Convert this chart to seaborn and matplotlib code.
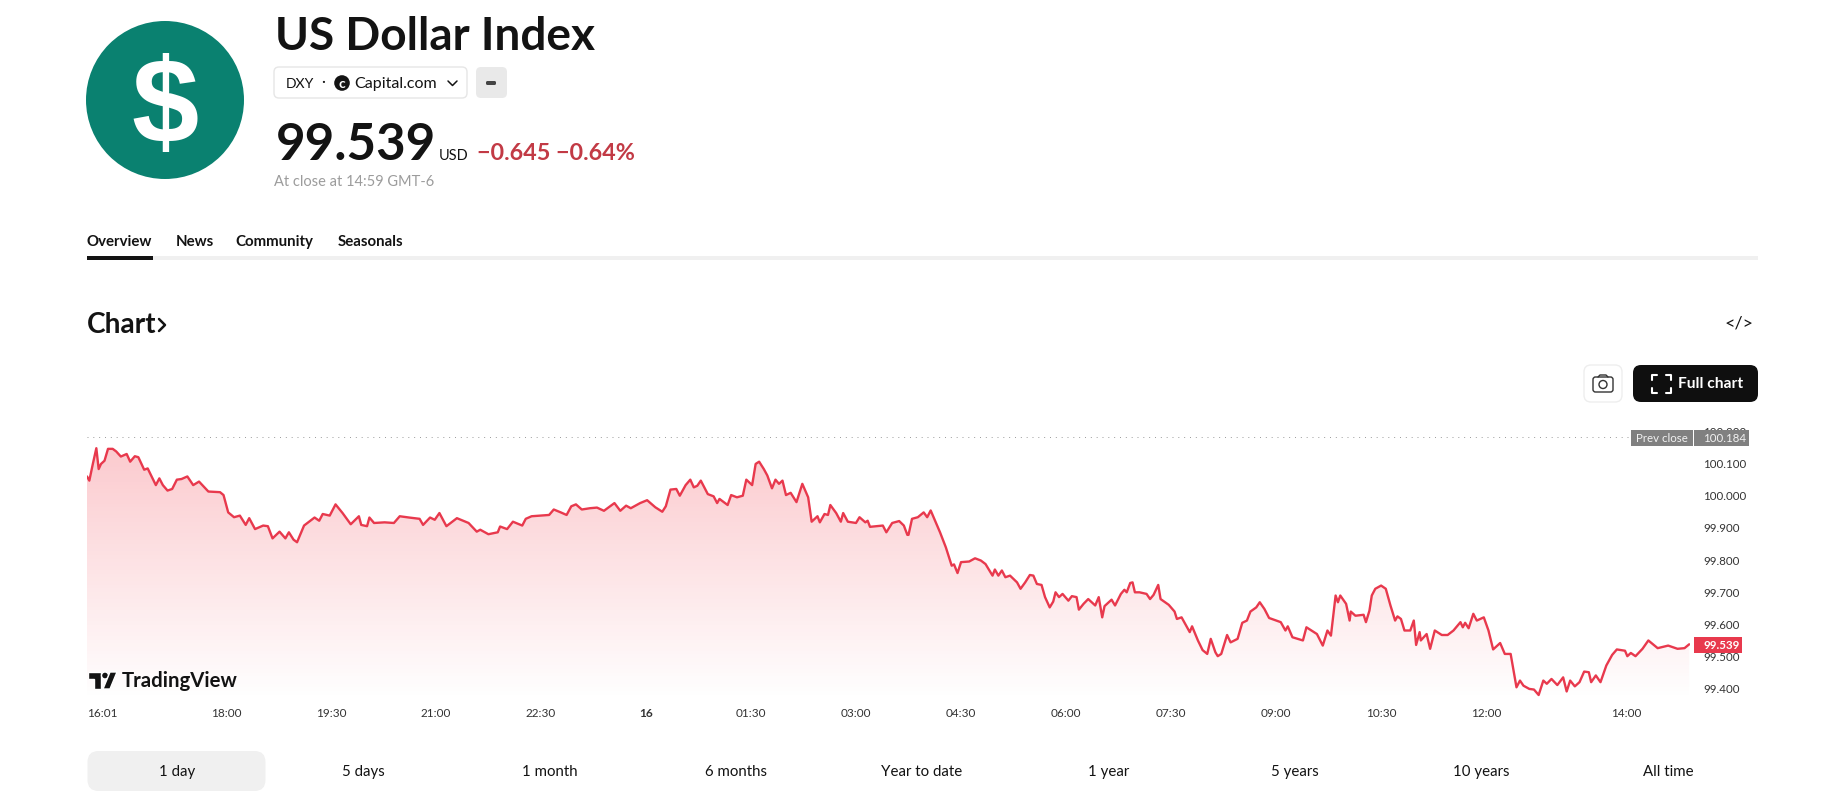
import numpy as np
import seaborn as sns
import matplotlib.pyplot as plt
from matplotlib.patches import Circle, FancyBboxPatch, Polygon, Rectangle
from matplotlib.transforms import ScaledTranslation

# minutes since 16:00 and price
minutes = [
    1, 3, 6, 9, 11, 13, 16, 19, 23, 26, 30, 35, 38, 42, 45, 50, 53, 60, 63, 66, 70, 74, 78, 82, 87, 92, 97, 105, 115, 118,
    122, 127, 132, 137, 140, 145, 152, 156, 160, 166, 171, 174, 178, 181, 187,
    196, 200, 203, 209, 214, 220, 227, 234, 236, 241, 243, 247, 256, 264, 269, 277, 286, 289, 295, 299, 303, 309, 318, 328,
    335, 338, 345, 353, 355, 361, 366, 374, 377, 382, 397, 401, 407,
    412, 416, 420, 425, 432, 438, 444, 453, 458, 463, 467, 475, 481, 488, 494, 497, 501, 506, 509, 514, 518, 521, 524, 527,
    533, 538, 541, 543, 550, 553, 558,
    563, 566, 571, 574, 577, 581, 584, 588, 591, 594, 597, 600, 604, 609, 614, 619, 622, 627, 629, 633, 636, 638, 643, 647,
    649, 653, 660, 663, 668, 670, 672, 683, 686, 691, 697, 701, 704, 705, 708, 713, 718, 721, 724, 732, 737, 742, 744, 747,
    750, 757, 762, 767, 771, 777, 779, 782, 785, 788, 792, 798, 801,
    805, 809, 812, 815, 819, 822, 826, 829, 831, 834, 837, 842, 845, 849, 851, 855, 859, 865, 868, 871, 873, 879, 882, 887,
    890, 892, 895, 897, 899, 903, 909, 912, 915, 919, 921, 928, 933, 935, 939,
    946, 948, 953, 957, 961, 964, 968, 970, 973, 978, 981, 987, 991, 995, 998, 1003, 1006, 1010, 1014, 1024, 1028, 1030,
    1034, 1043, 1046, 1055, 1060, 1064, 1067, 1071, 1073, 1075, 1080, 1083, 1084, 1088, 1095, 1097, 1100, 1102, 1105, 1110,
    1114, 1118, 1122, 1124, 1127, 1130, 1135, 1138, 1140, 1143, 1144, 1149, 1152, 1156, 1162, 1167, 1172, 1178, 1180, 1182,
    1185, 1189, 1192, 1195,
    1198, 1202, 1206, 1212, 1216, 1221, 1226, 1229, 1232, 1237, 1241, 1245, 1249, 1252, 1256, 1261, 1266, 1269, 1272, 1276,
    1280, 1284, 1288, 1290, 1294, 1298, 1303, 1308, 1312, 1319, 1321, 1324, 1328, 1334, 1339, 1347, 1356, 1364, 1370, 1374,
]
values = [
    100.062, 100.049, 100.101, 100.150, 100.085, 100.101, 100.111, 100.148, 100.148, 100.140, 100.124, 100.132, 100.108,
    100.125, 100.122, 100.083, 100.087, 100.035, 100.056, 100.035, 100.018, 100.023, 100.052, 100.054, 100.062, 100.035,
    100.046, 100.015, 100.013, 100.004,
    99.950, 99.935, 99.940, 99.911, 99.932, 99.898, 99.909, 99.907, 99.869, 99.890, 99.869, 99.888, 99.865, 99.857, 99.909,
    99.934, 99.924, 99.945, 99.940, 99.975, 99.948, 99.913, 99.938, 99.911, 99.907, 99.934, 99.917, 99.919, 99.917, 99.938,
    99.934, 99.930, 99.911, 99.934, 99.927, 99.948, 99.907, 99.932, 99.917,
    99.890, 99.896, 99.882, 99.888, 99.906, 99.898, 99.921, 99.909, 99.930, 99.938, 99.942, 99.959, 99.950,
    99.942, 99.969, 99.975, 99.959, 99.963, 99.965, 99.955, 99.979, 99.955, 99.971, 99.963, 99.979, 99.988, 99.966, 99.952,
    99.969, 100.021, 100.023, 100.002, 100.035, 100.052, 100.028, 100.033, 100.049,
    100.007, 100.000, 99.979, 99.992, 99.973, 100.004, 99.997,
    100.002, 100.052, 100.035, 100.101, 100.108, 100.085, 100.065, 100.025, 100.052, 100.039, 100.049, 100.004, 100.011,
    99.982, 100.039, 99.997, 99.921, 99.938, 99.919, 99.945, 99.942, 99.973, 99.948, 99.921,
    99.948, 99.921, 99.917, 99.935, 99.919, 99.924, 99.905, 99.909, 99.888, 99.917, 99.923, 99.909, 99.880, 99.880, 99.930,
    99.935, 99.950, 99.935, 99.956, 99.888, 99.841, 99.784, 99.788, 99.761,
    99.795, 99.797, 99.807, 99.800, 99.789, 99.753, 99.772, 99.753, 99.769, 99.748, 99.753, 99.732, 99.712,
    99.732, 99.755, 99.753, 99.727, 99.724, 99.686, 99.654, 99.672, 99.701, 99.686, 99.696, 99.675, 99.689, 99.686, 99.647,
    99.665, 99.680, 99.660, 99.686, 99.623, 99.658, 99.678, 99.660, 99.696,
    99.709, 99.701, 99.730, 99.732, 99.701, 99.701, 99.696, 99.680, 99.693, 99.724, 99.680, 99.662, 99.641, 99.618, 99.623,
    99.577, 99.595, 99.551, 99.521, 99.509, 99.556, 99.514, 99.502, 99.509, 99.568, 99.545, 99.556, 99.606, 99.613, 99.641,
    99.654, 99.670, 99.649, 99.621, 99.608, 99.582, 99.595,
    99.561, 99.551, 99.592, 99.571, 99.535, 99.582, 99.566, 99.691, 99.670, 99.691, 99.665, 99.613, 99.641, 99.628, 99.631,
    99.608, 99.644, 99.691, 99.712, 99.722,
    99.712, 99.660, 99.613, 99.626, 99.618, 99.582, 99.582, 99.613, 99.537, 99.577, 99.551, 99.571, 99.525, 99.582, 99.568,
    99.568, 99.582, 99.608, 99.592, 99.606,
    99.589, 99.634, 99.613, 99.618,
    99.623, 99.582, 99.523, 99.543, 99.509, 99.509, 99.405, 99.426, 99.410, 99.400, 99.398, 99.381, 99.426, 99.416, 99.431,
    99.412, 99.436, 99.392, 99.426, 99.408,
    99.421, 99.454, 99.452, 99.421, 99.442, 99.421, 99.473, 99.506, 99.523, 99.519, 99.502, 99.512, 99.502, 99.525, 99.551,
    99.527, 99.535, 99.525, 99.527, 99.539,
]

x_ticks = [1, 120, 210, 300, 390, 480, 570, 660, 750, 840, 930, 1020, 1110, 1200, 1320]
x_labels = ['16:01', '18:00', '19:30', '21:00', '22:30', '16', '01:30', '03:00', '04:30', '06:00', '07:30', '09:00',
            '10:30', '12:00', '14:00']
y_ticks = [99.4, 99.5, 99.6, 99.7, 99.8, 99.9, 100.0, 100.1, 100.2]
prev_close = 100.184
last_price = 99.539
ranges = ['1 day', '5 days', '1 month', '6 months', 'Year to date', '1 year', '5 years', '10 years', 'All time']
tabs = ['Overview', 'News', 'Community', 'Seasonals']

W, H = 1826, 812
RED = '#e8394d'
FONT = 'Lato'

sns.set_theme(style='white')
plt.rcParams['font.family'] = [FONT, 'DejaVu Sans']

fig = plt.figure(figsize=(W / 100, H / 100), dpi=100, facecolor='white')

# price chart
ax = fig.add_axes([87 / W, 1 - 705 / H, 1603 / W, 285 / H])
sns.lineplot(x=minutes, y=values, color=RED, linewidth=1.7, estimator=None, sort=False, ax=ax, zorder=3)

poly = ax.fill_between(minutes, values, 99.36, color='none')
grad = np.linspace(0, 1, 256).reshape(-1, 1, 1)
rgba = np.concatenate([np.ones_like(grad) * 0.95, np.ones_like(grad) * 0.22, np.ones_like(grad) * 0.28, grad * 0.27], axis=2)
img = ax.imshow(rgba, extent=[1, 1374, 99.37, 100.16], origin='lower', aspect='auto', zorder=1)
img.set_clip_path(poly.get_paths()[0], transform=ax.transData)

ax.axhline(prev_close, xmax=(1630 - 87) / 1603, color='#9a9a9a', lw=0.7, dashes=(1, 5))

ax.set_xlim(1, 1374.7)
ax.set_ylim(99.353, 100.241)
ax.set_xticks(x_ticks)
ax.set_xticklabels(x_labels)
ax.set_yticks(y_ticks)
ax.set_yticklabels([f'{v:.3f}' for v in y_ticks])
ax.yaxis.tick_right()
ax.tick_params(axis='y', length=0, pad=9.4, labelsize=8.3, labelcolor='#333333')
ax.tick_params(axis='x', length=0, pad=2.5, labelsize=8.5, labelcolor='#333333')
ax.set_xlabel('')
ax.set_ylabel('')
for lab in ax.get_xticklabels():
    if lab.get_text() == '16':
        lab.set_fontweight('bold')
    if lab.get_text() == '16:01':
        lab.set_ha('left')
# y labels sit a touch high in the reference
nudge = ScaledTranslation(0, 1.5 / 100, fig.dpi_scale_trans)
for lab in ax.get_yticklabels():
    lab.set_transform(lab.get_transform() + nudge)
sns.despine(ax=ax, left=True, bottom=True, right=True, top=True)
ax.patch.set_alpha(0)

# page furniture, drawn in pixel coordinates
ui = fig.add_axes([0, 0, 1, 1], zorder=5)
ui.set_xlim(0, W)
ui.set_ylim(H, 0)
ui.axis('off')


def label(x, y, s, px, color='#131313', weight='normal', ha='left', va='center', **kw):
    ui.text(x, y, s, fontsize=px * 0.72, color=color, fontweight=weight, ha=ha, va=va, **kw)


def box(x0, y0, x1, y1, r, fc, ec='none', lw=1):
    ui.add_patch(FancyBboxPatch((x0 + r, y0 + r), x1 - x0 - 2 * r, y1 - y0 - 2 * r,
                                boxstyle=f'round,pad={r},rounding_size={r}', fc=fc, ec=ec, lw=lw))


# logo and heading
ui.add_patch(Circle((165, 101), 79, fc='#0a8170', ec='none'))
ui.text(165, 99, '$', fontsize=87, color='white', fontweight='bold', ha='center', va='center_baseline',
        family='Liberation Sans')
label(275, 50, 'US Dollar Index', 46, weight='bold', va='baseline')

box(274, 68, 467, 99, 5, 'white', '#e6e6e6')
label(286, 84, 'DXY', 14)
label(323, 82, '·', 15, ha='center')
ui.add_patch(Circle((342, 84), 8.5, fc='#131313'))
ui.text(342, 84, 'c', fontsize=10, color='white', fontweight='bold', ha='center', va='center')
label(354, 84, 'Capital.com', 16)
ui.plot([448, 452.5, 457], [82, 86.5, 82], color='#131313', lw=1.1)
box(476, 68, 507, 99, 5, '#e9e9e9')
box(486, 82, 496, 86, 1.5, '#444444')

label(276, 160, '99.539', 51, weight='bold', va='baseline')
label(439, 160, 'USD', 14.5, va='baseline')
label(477, 160, '\u22120.645 \u22120.64%', 23.4, color='#c23a45', weight='bold', va='baseline')
label(274, 182, 'At close at 14:59 GMT-6', 14.6, color='#9c9c9c')

# tabs
for x, s in zip([86.5, 176, 235.5, 337.5], tabs):
    label(x, 242, s, 15, weight='bold')
ui.add_patch(Rectangle((86.5, 257), 1671.5, 3.6, fc='#f0f0f0', ec='none'))
ui.add_patch(Rectangle((86.5, 257), 66.5, 3.6, fc='#131313', ec='none'))

label(87, 325, 'Chart', 28, weight='bold')
ui.plot([159, 165, 159], [320, 326, 332], color='#131313', lw=1.8)
label(1739, 324, '</>', 18, ha='center')

# chart buttons
box(1584, 366, 1622, 403, 7, 'white', '#eeeeee')
box(1593, 378, 1613, 393, 2.5, 'white', '#333333', 1)
ui.add_patch(Circle((1603, 385.5), 4, fc='white', ec='#333333', lw=1))
ui.plot([1598, 1600, 1606, 1608], [378, 376, 376, 378], color='#333333', lw=1)
box(1633, 366, 1758, 403, 8, '#0f0f0f')
for cx, cy, dx, dy in [(1652, 376, 1, 1), (1671, 376, -1, 1), (1652, 394, 1, -1), (1671, 394, -1, -1)]:
    ui.plot([cx + 5 * dx, cx, cx], [cy, cy, cy + 5 * dy], color='white', lw=1.5)
label(1678, 384.5, 'Full chart', 15.5, color='white', weight='bold')

# price tags
ui.add_patch(Rectangle((1631, 431), 62, 16, fc='#808080', ec='none'))
ui.add_patch(Rectangle((1694, 431), 55, 16, fc='#808080', ec='none'))
label(1662, 439, 'Prev close', 11.5, color='#f2f2f2', ha='center')
label(1703, 439, f'{prev_close:.3f}', 11.5, color='#f2f2f2')
ui.add_patch(Rectangle((1694, 638), 48, 16, fc=RED, ec='none'))
label(1703, 646, f'{last_price:.3f}', 11.5, color='white', weight='bold')

# tradingview mark
ui.add_patch(Polygon([(88, 673), (101, 673), (101, 690), (94, 690), (94, 680), (88, 680)], fc='#131313'))
ui.add_patch(Circle((105, 676.5), 3.5, fc='#131313'))
ui.add_patch(Polygon([(110, 673), (117, 673), (110, 690), (103, 690)], fc='#131313'))
label(122, 681, 'TradingView', 20.4, weight='bold')

# range selector
box(87.5, 752, 265.5, 792, 11, '#f0f0f0')
for x, s in zip([177, 363, 550, 736, 922, 1109, 1295, 1481, 1668], ranges):
    label(x, 772, s, 15, ha='center')

fig.savefig('out.png', dpi=100)
